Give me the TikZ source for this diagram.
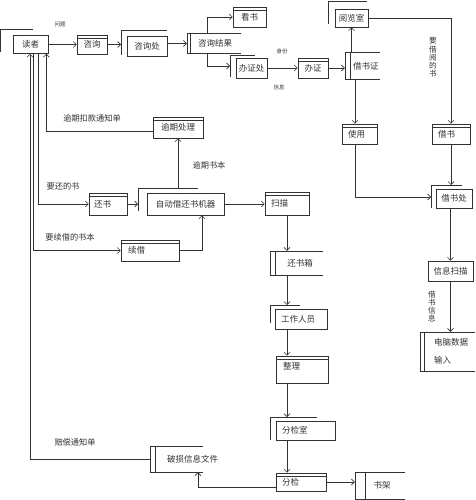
\documentclass[tikz,border=0pt]{standalone}
\usepackage{fontspec}
\setmainfont{Noto Sans CJK SC}
\usetikzlibrary{arrows.meta,calc}
\begin{document}
\begin{tikzpicture}[x=1pt,y=-1pt,
  ln/.style={draw=black!80, line width=0.6pt},
  arr/.style={ln, -{Straight Barb[length=3pt,width=6pt]}},
  every node/.style={font=\fontsize{8.5}{10}\selectfont, text=black!80, inner sep=0pt},
  box/.style={ln, rectangle, minimum width=#1},
  hdr/.style={box=#1, path picture={\draw[black!80, line width=0.5pt]
      ([yshift=-2.8pt]path picture bounding box.north west) --
      ([yshift=-2.8pt]path picture bounding box.north east);}},
  store/.style={rectangle, minimum width=#1},
  lft/.style={text width=#1, align=left},
  lbl/.style={font=\fontsize{8.2}{10}\selectfont},
  small/.style={font=\fontsize{5.5}{7}\selectfont},
  vert/.style={align=center, font=\fontsize{7.6}{8.2}\selectfont}
]
\fill[white] (0,0) rectangle (475,500);
\useasboundingbox (0,0) rectangle (475,500);

% ---------- nodes ----------
\node[box=35, minimum height=18] (reader) at (30.5,44.5) {读者};
\node[hdr=30, minimum height=19] (zx) at (92,44.5) {咨询};
\node[box=40, minimum height=20] (zxc) at (147,46) {咨询处};
\node[store=54, minimum height=19, lft=54] (zxjg) at (214,43.5) {\hspace*{11pt}咨询结果};
\node[hdr=33, minimum height=20] (ks) at (249.5,17) {看书};
\node[box=31, minimum height=20] (bzc) at (251.5,68) {办证处};
\node[hdr=30, minimum height=20] (bz) at (313,68) {办证};
\node[store=35, minimum height=26, lft=35] (jsz) at (362.5,66) {\hspace*{8pt}借书证};
\node[box=33, minimum height=18] (ylx) at (351.5,18) {阅览室};
\node[hdr=35, minimum height=20, lft=35] (sy) at (359.5,134) {\hspace*{6pt}使用};
\node[hdr=38, minimum height=20, lft=38] (js) at (451,134) {\hspace*{6pt}借书};
\node[box=36, minimum height=19] (jsc) at (454,198.5) {借书处};
\node[box=45, minimum height=20] (xxsm) at (450.5,271) {信息扫描};
\node[store=55, minimum height=39, lft=55, font=\fontsize{8.5}{18}\selectfont] (dn) at (447.5,351.5)
  {\hspace*{14pt}电脑数据\\\hspace*{14pt}输入};
\node[hdr=50, minimum height=21] (yqcl) at (178,127.5) {逾期处理};
\node[hdr=38, minimum height=22, lft=38] (hs) at (108,204) {\hspace*{5pt}还书};
\node[box=77, minimum height=22] (zd) at (185.5,204) {自动借还书机器};
\node[hdr=58, minimum height=21, lft=58] (xj) at (150,250.5) {\hspace*{7pt}续借};
\node[hdr=44, minimum height=23, lft=44] (sm) at (287,203.5) {\hspace*{6pt}扫描};
\node[store=53, minimum height=24] (hsx) at (296.5,263) {\hspace*{7pt}还书箱};
\node[box=52, minimum height=20, lft=52] (gzry) at (301,319) {\hspace*{6pt}工作人员};
\node[hdr=52, lft=52, text height=13pt, text depth=14pt] (zl) at (302,369.5) {\hspace*{7pt}整理};
\node[box=59, minimum height=19, lft=59] (fjs) at (305.5,430.5) {\hspace*{6pt}分检室};
\node[hdr=50, minimum height=18, lft=50] (fj) at (301,482) {\hspace*{6pt}分检};
\node[store=50, minimum height=27] (sj) at (380,485.5) {\hspace*{4pt}书架};
\node[store=53, minimum height=26, lft=53] (psxx) at (176.5,459)
  {\hspace*{17pt}\makebox[0pt][l]{破损信息文件}};

% ---------- store outlines ----------
\foreach \n/\g in {zxjg/3, jsz/5, hsx/5, psxx/5, sj/10, dn/4}{
  \draw[ln] (\n.north east) -- (\n.north west) -- (\n.south west) -- (\n.south east);
  \draw[ln] ([xshift=\g pt]\n.north west) -- ([xshift=\g pt]\n.south west);
}

% ---------- brackets ----------
\draw[ln] (0.5,52) -- (0.5,29) -- (33,29);
\draw[ln] (121,55) -- (121,30) -- (167,30);
\draw[ln] (230,77) -- (230,55) -- (255,55);
\draw[ln] (328,24) -- (328,1) -- (367,1);
\draw[ln] (431,208) -- (431,185) -- (462,185);
\draw[ln] (138,211) -- (138,188) -- (198,188);
\draw[ln] (270,323) -- (270,305) -- (300,305);
\draw[ln] (270,440) -- (270,417) -- (317,417);

\coordinate (zxcL) at (121,44.5);
\coordinate (bzcL) at (230,66);
\coordinate (jscL) at (431,197);
\coordinate (jscT) at (431,185);
\coordinate (zdL) at (138,204);
\coordinate (zdT) at (138,188);
\coordinate (gzryT) at (270,305);
\coordinate (fjsT) at (270,417);

% ---------- connectors ----------
\draw[arr] (reader.east) -- (zx.west);
\draw[arr] (zx.east) -- (zx.east -| zxcL);
\draw[arr] (zxc.east |- zxjg.west) -- (zxjg.west);
\draw[arr] ([xshift=20pt]zxjg.north west) |- (ks.west);
\draw[arr] ([xshift=20pt]zxjg.south west) |- (bzcL);
\draw[arr] (bzc.east) -- (bz.west);
\draw[arr] (bz.east) -- (bz.east -| jsz.west);
\draw[arr] (ylx.south |- jsz.north) -- (ylx.south);
\draw[arr] ([xshift=-4.5pt]sy.north |- jsz.south) -- ([xshift=-4.5pt]sy.north);
\draw[arr] (ylx.east) -| (js.north);
\draw[arr] ([xshift=-4.5pt]sy.south) |- (jscL);
\draw[arr] (js.south) -- (js.south |- jscT);
\draw[arr] (xxsm.north |- jsc.south) -- (xxsm.north);
\draw[arr] (xxsm.south) -- (xxsm.south |- dn.north);
\draw[arr] ([yshift=-4pt]yqcl.west) -| ([xshift=-2pt]reader.south east);
\draw[arr] ([xshift=7.5pt]reader.south) |- (hs.west);
\draw[arr] (yqcl.south |- zdT) -- (yqcl.south);
\draw[arr] (hs.east) -- (hs.east -| zdL);
\draw[arr] ([xshift=2.5pt]reader.south) |- (xj.west);
\draw[arr] (xj.east) -| ([xshift=16.5pt]zd.south);
\draw[arr] (zd.east) -- (zd.east -| sm.west);
\draw[arr] (sm.south) -- (sm.south |- hsx.north);
\draw[arr] (sm.south |- hsx.south) -- (sm.south |- gzryT);
\draw[arr] (sm.south |- gzry.south) -- (sm.south |- zl.north);
\draw[arr] (sm.south |- zl.south) -- (sm.south |- fjsT);
\draw[arr] (sm.south |- fjs.south) -- (sm.south |- fj.north);
\draw[arr] (fj.east) -- (fj.east -| sj.west);
\draw[arr] ([yshift=-5pt]fj.west) -| ([xshift=21.5pt]psxx.south);
\draw[arr] (psxx.west) -| ([xshift=-0.5pt]reader.south);

% ---------- labels ----------
\node[small] (tq) at (60,24) {问题};
\node[small] (tsf) at (282,51) {身份};
\node[small] (txx) at (279,87) {信息};
\node[lbl] (t1) at (92,118) {逾期扣款通知单};
\node[lbl] (t2) at (209,165) {逾期书本};
\node[lbl] (t3) at (63,186) {要还的书};
\node[lbl] (t4) at (70,237) {要续借的书本};
\node[lbl] (t5) at (75,442) {赔偿通知单};
\node[vert] (t6) at (433,57.5) {要\\借\\阅\\的\\书};
\node[vert] (t7) at (432,306.5) {借\\书\\信\\息};
\end{tikzpicture}
\end{document}
